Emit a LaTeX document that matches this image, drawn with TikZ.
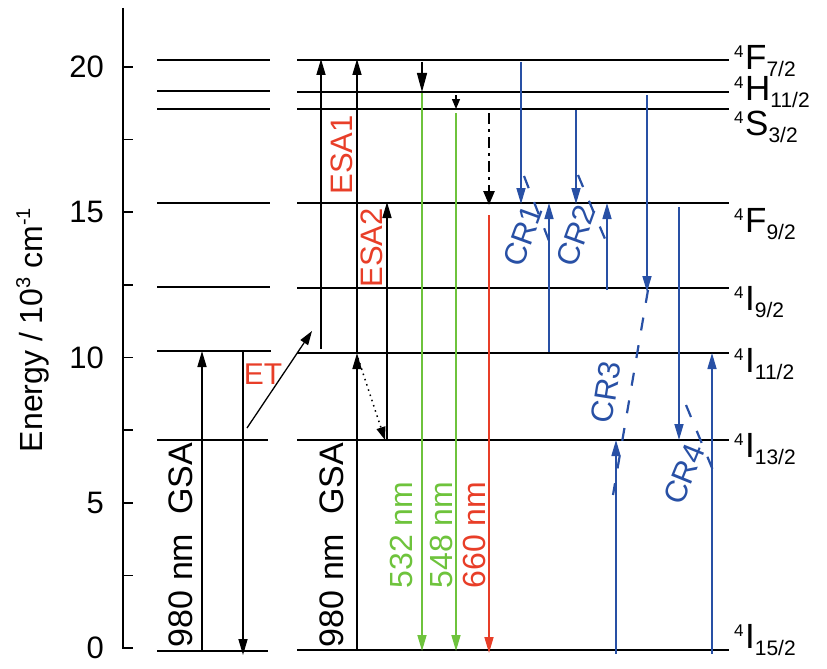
\documentclass[tikz,border=0pt]{standalone}
\usepackage{fontspec}
\setmainfont{Liberation Sans}
\usetikzlibrary{arrows.meta}
\definecolor{cblue}{RGB}{40,80,165}
\definecolor{cgreen}{RGB}{110,195,60}
\definecolor{cred}{RGB}{232,62,40}
\newcommand\fs[1]{\fontsize{#1}{#1}\selectfont}
\newcommand\term[3]{{\fs{17}\raisebox{12pt}{#1}}\kern1.5pt#2{\fs{21}\raisebox{-7pt}{#3}}}
\begin{document}
\begin{tikzpicture}[x=1pt,y=-1pt,
  lvl/.style={line width=2pt},
  tr/.style={line width=1.6pt,-{Triangle[length=16pt,width=9pt]}},
  trs/.style={line width=1.3pt,-{Triangle[length=10pt,width=8pt]}},
  lbl/.style={inner sep=0pt,font=\fs{34}},
  rlbl/.style={lbl,rotate=90,anchor=base},
  term/.style={inner sep=0pt,anchor=base west,font=\fs{35}},
  crd/.style={cblue,line width=2.2pt,dash pattern=on 13pt off 15pt},
  crl/.style={inner sep=0pt,font=\fs{31},text=cblue}
]
\useasboundingbox (0,0) rectangle (827,669);
% axis
\coordinate (ax0) at (123,8);
\coordinate (ax1) at (123,648);
\draw[line width=2pt] (ax0) -- (ax1);
\foreach \v [count=\i] in {0,2.5,5,7.5,10,12.5,15,17.5,20} {
  \coordinate (tk\i a) at (122,{648-29.05*\v});
  \coordinate (tk\i b) at (133,{648-29.05*\v});
  \draw[line width=1.7pt] (tk\i a) -- (tk\i b);
}
\foreach \v in {0,5,10,15,20} {
  \node[inner sep=0pt,anchor=east,font=\fs{31}] (tl\v) at (104,{648-29.05*\v}) {\v};
}
\node[inner sep=0pt,rotate=90,anchor=base,font=\fs{32}] (ytitle) at (42,330)
  {Energy / 10{\fs{20}\raisebox{12pt}{3}} cm{\fs{20}\raisebox{12pt}{-1}}};
% levels, left column
\foreach \n/\y/\e in {a/60/270,b/91/270,c/109/270,d/203/270,e/287/270,f/351/271,g/440/268,h/651/268} {
  \coordinate (La\n) at (157,\y); \coordinate (Lb\n) at (\e,\y);
  \draw[lvl] (La\n) -- (Lb\n);
}
% levels, right column
\foreach \n/\y in {a/60,b/92,c/109,d/203,e/288,f/353,g/440,h/650} {
  \coordinate (Ra\n) at (297,\y); \coordinate (Rb\n) at (729,\y);
  \draw[lvl] (Ra\n) -- (Rb\n);
}
% term labels
\node[term] (tF7) at (734,70) {\term{4}{F}{7/2}};
\node[term] (tH11) at (734,100) {\term{4}{H}{11/2}};
\node[term] (tS3) at (734,135) {\term{4}{S}{3/2}};
\node[term] (tF9) at (734,232) {\term{4}{F}{9/2}};
\node[term] (tI9) at (734,310) {\term{4}{I}{9/2}};
\node[term] (tI11) at (734,372) {\term{4}{I}{11/2}};
\node[term] (tI13) at (734,457) {\term{4}{I}{13/2}};
\node[term] (tI15) at (734,648) {\term{4}{I}{15/2}};
% left column transitions
\coordinate (ga0) at (202,650); \coordinate (ga1) at (202,351);
\draw[tr] (ga0) -- (ga1);
\coordinate (da0) at (243,351); \coordinate (da1) at (243,655);
\draw[tr] (da0) -- (da1);
\coordinate (et0) at (247,428); \coordinate (et1) at (312,331);
\draw[line width=1.3pt,-{Triangle[length=14pt,width=9pt]}] (et0) -- (et1);
\node[lbl,font=\fs{30},text=cred] (etl) at (263,374) {ET};
\node[rlbl] (gsa1) at (192,545) {980 nm\ \ GSA};
% right column: black
\coordinate (e10) at (321,349); \coordinate (e11) at (321,59);
\draw[tr] (e10) -- (e11);
\coordinate (e20) at (357,353); \coordinate (e21) at (357,59);
\draw[tr] (e20) -- (e21);
\coordinate (g20) at (357,650); \coordinate (g21) at (357,353);
\draw[tr] (g20) -- (g21);
\coordinate (e30) at (387,440); \coordinate (e31) at (387,202);
\draw[tr] (e30) -- (e31);
\coordinate (nr0) at (358,358); \coordinate (nr1) at (385,440);
\draw[line width=1.5pt,dash pattern=on 1.5pt off 4pt,-{Triangle[length=13pt,width=9pt]}] (nr0) -- (nr1);
\node[rlbl,text=cred,font=\fs{31}] (esa1) at (352,155) {ESA1};
\node[rlbl,text=cred,font=\fs{31}] (esa2) at (382,248) {ESA2};
\node[rlbl] (gsa2) at (343,545) {980 nm\ \ GSA};
% non-radiative
\coordinate (n10) at (422,62); \coordinate (n11) at (422,92);
\draw[line width=1.3pt,-{Triangle[length=19pt,width=10pt]}] (n10) -- (n11);
\coordinate (n20) at (456,95); \coordinate (n21) at (456,109);
\draw[trs] (n20) -- (n21);
\coordinate (n30) at (489,113); \coordinate (n31) at (489,205);
\draw[line width=2.6pt,dash pattern=on 11pt off 5pt on 3pt off 5pt,-{Triangle[length=14pt,width=11pt]}] (n30) -- (n31);
% emissions
\coordinate (gr10) at (422,93); \coordinate (gr11) at (422,651);
\draw[tr,cgreen] (gr10) -- (gr11);
\coordinate (gr20) at (456,113); \coordinate (gr21) at (456,651);
\draw[tr,cgreen] (gr20) -- (gr21);
\coordinate (rd0) at (489,215); \coordinate (rd1) at (489,653);
\draw[tr,cred] (rd0) -- (rd1);
\node[rlbl,text=cgreen,font=\fs{32}] (l532) at (412,535) {532 nm};
\node[rlbl,text=cgreen,font=\fs{32}] (l548) at (452,535) {548 nm};
\node[rlbl,text=cred,font=\fs{32}] (l660) at (485,535) {660 nm};
% cross relaxations
\begin{scope}[every path/.append style={cblue}]
\coordinate (b10) at (521,62); \coordinate (b11) at (521,204);
\draw[tr] (b10) -- (b11);
\coordinate (b20) at (549,352); \coordinate (b21) at (549,203);
\draw[tr] (b20) -- (b21);
\coordinate (b30) at (576,110); \coordinate (b31) at (576,204);
\draw[tr] (b30) -- (b31);
\coordinate (b40) at (607,290); \coordinate (b41) at (607,203);
\draw[tr] (b40) -- (b41);
\coordinate (b50) at (647,95); \coordinate (b51) at (647,292);
\draw[tr] (b50) -- (b51);
\coordinate (b60) at (679,207); \coordinate (b61) at (679,440);
\draw[tr] (b60) -- (b61);
\coordinate (b70) at (616,654); \coordinate (b71) at (616,440);
\draw[tr] (b70) -- (b71);
\coordinate (b80) at (712,654); \coordinate (b81) at (712,353);
\draw[tr] (b80) -- (b81);
\end{scope}
\coordinate (c10) at (524,176); \coordinate (c11) at (551,246);
\draw[crd] (c10) -- (c11);
\coordinate (c20) at (578,175); \coordinate (c21) at (608,246);
\draw[crd] (c20) -- (c21);
\coordinate (c30) at (648,290); \coordinate (c31) at (613,495);
\draw[crd] (c30) -- (c31);
\coordinate (c40) at (686,405); \coordinate (c41) at (717,480);
\draw[crd] (c40) -- (c41);
\node[crl,rotate=70] (cr1) at (523,236) {CR1};
\node[crl,rotate=70] (cr2) at (576,236) {CR2};
\node[crl,rotate=81] (cr3) at (606,392) {CR3};
\node[crl,rotate=68] (cr4) at (684,474) {CR4};
\end{tikzpicture}
\end{document}
